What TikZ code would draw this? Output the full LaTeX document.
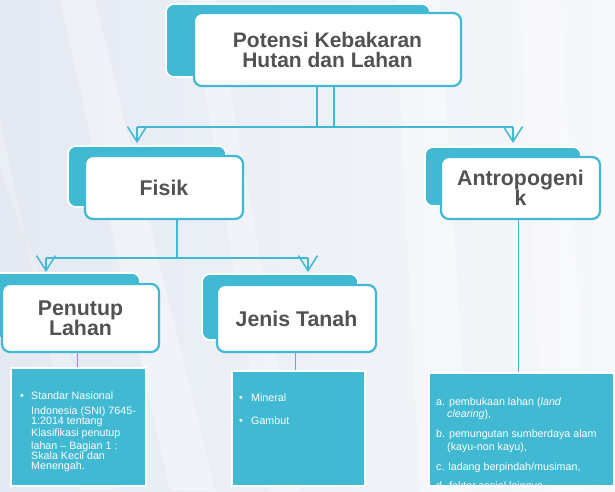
\documentclass[tikz,border=0pt]{standalone}
\usepackage{fontspec}
\setmainfont{Liberation Sans}
\usetikzlibrary{arrows.meta}
\definecolor{tealA}{RGB}{65,185,211}
\definecolor{headtxt}{RGB}{82,82,82}
\definecolor{bgA}{RGB}{228,233,242}
\definecolor{bgB}{RGB}{247,248,251}

% box given by its corners: name, x1, y1, x2, y2, style, text
\newcommand\cornerbox[7]{%
  \node[#6, minimum width={(#4-#2)*1pt}, minimum height={(#5-#3)*1pt}]
    (#1) at ({(#2+#4)/2},{(#3+#5)/2}) {#7};}

\begin{document}
\begin{tikzpicture}[x=1pt,y=-1pt,
  backtab/.style={draw=white, line width=1.6pt, fill=tealA, rounded corners=8pt, inner sep=0pt},
  frontbox/.style={draw=tealA, line width=2.2pt, fill=white, rounded corners=8pt,
    inner sep=0pt, align=center, text=headtxt,
    font=\bfseries\fontsize{21.3}{20}\selectfont},
  infobox/.style={draw=white, line width=2pt, fill=tealA, inner sep=0pt},
  link/.style={draw=tealA, line width=1.5pt},
  drop/.style={link, -{Straight Barb[length=15pt,width=19pt,line width=1.5pt]}},
  infoline/.style={text=white, font=\fontsize{10.7}{10}\selectfont, inner sep=0pt, anchor=base west},
  bul/.style={text=white, font=\fontsize{11}{11}\selectfont, inner sep=0pt, anchor=base}
]
\useasboundingbox (0,0) rectangle (615,491);
\clip (0,0) rectangle (615,491);

% backdrop with soft diagonal light streaks
\shade[left color=bgA, right color=bgB] (0,0) rectangle (615,491);
\fill[white, opacity=0.35] (60,0) -- (95,0) -- (215,491) -- (170,491) -- cycle;
\fill[white, opacity=0.30] (190,0) -- (215,0) -- (300,491) -- (270,491) -- cycle;
\fill[white, opacity=0.40] (395,0) -- (440,0) -- (470,491) -- (420,491) -- cycle;
\fill[white, opacity=0.30] (520,0) -- (560,0) -- (590,491) -- (545,491) -- cycle;
\fill[white, opacity=0.25] (0,120) -- (0,170) -- (120,491) -- (80,491) -- cycle;

% headline boxes (tab behind, framed card in front)
\cornerbox{mainTab}{166}{4}{430}{77}{backtab}{}
\cornerbox{main}{194}{13}{461}{86}{frontbox, font=\bfseries\fontsize{21}{20}\selectfont}{Potensi Kebakaran\\Hutan dan Lahan}

\cornerbox{fisikTab}{68}{146}{226}{207}{backtab}{}
\cornerbox{fisik}{85}{156}{243}{219}{frontbox}{Fisik}

\cornerbox{antroTab}{425}{147}{581}{206}{backtab}{}
\cornerbox{antro}{441}{157}{600}{219}{frontbox}{Antropogeni\\k}

\cornerbox{tutupTab}{-6}{273}{140}{338}{backtab}{}
\cornerbox{tutup}{2}{284}{159}{352}{frontbox}{Penutup\\Lahan}

\cornerbox{tanahTab}{202}{274}{358}{340}{backtab}{}
\cornerbox{tanah}{217}{285}{376}{352}{frontbox}{Jenis Tanah}

% detail boxes
\cornerbox{tutupInfo}{11}{368}{146}{486}{infobox}{}
\cornerbox{tanahInfo}{232}{371}{365}{486}{infobox}{}
\cornerbox{antroInfo}{429}{373}{614}{486}{infobox}{}

% bus lines and drop arrows
\coordinate (busTop) at (327,127);
\coordinate (tipFisik) at (137,143);
\coordinate (tipAntro) at (513,143);
\draw[link] ([xshift=-10.5pt]main.south) -- ([xshift=-10.5pt]main.south |- busTop);
\draw[link] ([xshift=6.5pt]main.south) -- ([xshift=6.5pt]main.south |- busTop);
\draw[link] (tipFisik |- busTop) -- (tipAntro |- busTop);
\draw[drop] (tipFisik |- busTop) -- (tipFisik);
\draw[drop] (tipAntro |- busTop) -- (tipAntro);

\coordinate (busMid) at (177,258);
\coordinate (tipTutup) at (46,272);
\coordinate (tipTanah) at (308,272);
\draw[link] ([xshift=13pt]fisik.south) -- ([xshift=13pt]fisik.south |- busMid);
\draw[link] (tipTutup |- busMid) -- (tipTanah |- busMid);
\draw[drop] (tipTutup |- busMid) -- (tipTutup);
\draw[drop] (tipTanah |- busMid) -- (tipTanah);

\draw[link, line width=1pt] ([xshift=-3.5pt]tutup.south) -- ([xshift=-3.5pt]tutup.south |- tutupInfo.north);
\draw[link, line width=1pt] ([xshift=-1.5pt]tanah.south) -- ([xshift=-1.5pt]tanah.south |- tanahInfo.north);
\draw[link, line width=1pt] ([xshift=-2.5pt]antro.south) -- ([xshift=-2.5pt]antro.south |- antroInfo.north);

% detail texts
\node[bul] (tutupBul) at (22,399) {•};
\foreach \yy/\tx [count=\i] in {399/Standar Nasional, 414/Indonesia (SNI) 7645-,
  424/1:2014 tentang, 436/Klasifikasi penutup, 449/lahan – Bagian 1 :,
  459/Skala Kecil dan, 469/Menengah.}
  \node[infoline] (tutupL\i) at (31,\yy) {\tx};

\node[bul] (tanahBulA) at (241,401) {•};
\node[bul] (tanahBulB) at (241,424) {•};
\node[infoline] (tanahL1) at (251,401) {Mineral};
\node[infoline] (tanahL2) at (251,424) {Gambut};

\begin{scope}
\clip (429,373) rectangle (614,485);
\node[infoline] (antroL1) at (436,405) {a. pembukaan lahan (\textit{land}};
\node[infoline] (antroL2) at (447,417) {\textit{clearing}),};
\node[infoline] (antroL3) at (436,437) {b. pemungutan sumberdaya alam};
\node[infoline] (antroL4) at (447,450) {(kayu-non kayu),};
\node[infoline] (antroL5) at (436,470) {c. ladang berpindah/musiman,};
\node[infoline] (antroL6) at (436,489) {d. faktor sosial lainnya};
\end{scope}
\end{tikzpicture}
\end{document}
